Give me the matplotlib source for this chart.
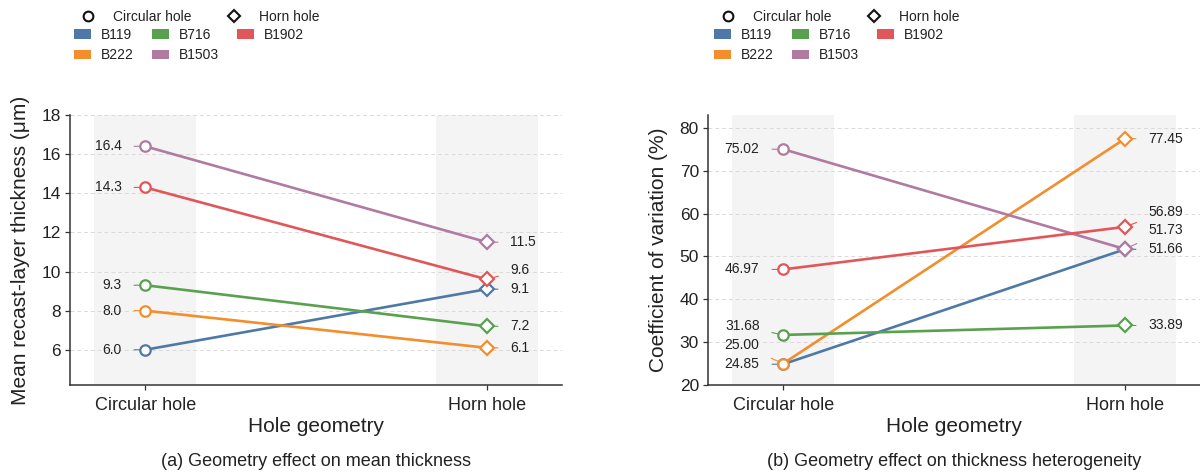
import matplotlib
matplotlib.use("Agg")
import matplotlib.pyplot as plt
from matplotlib.lines import Line2D
from matplotlib.patches import Patch
from matplotlib.transforms import offset_copy

plt.rcParams['font.family'] = ['Liberation Sans', 'DejaVu Sans']

# ---------------- data ----------------
geometries = ["Circular hole", "Horn hole"]
alloys = ["B119", "B222", "B716", "B1503", "B1902"]
colors = {"B119": "#4e79a7", "B222": "#f28e2b", "B716": "#59a14f",
          "B1902": "#e15759", "B1503": "#b07aa1"}

thickness_circular = {"B119": 6.0, "B222": 8.0, "B716": 9.3, "B1503": 16.4, "B1902": 14.3}
thickness_horn = {"B119": 9.1, "B222": 6.1, "B716": 7.2, "B1503": 11.5, "B1902": 9.6}

cv_circular = {"B119": 24.85, "B222": 25.00, "B716": 31.68, "B1503": 75.02, "B1902": 46.97}
cv_horn = {"B119": 51.66, "B222": 77.45, "B716": 33.89, "B1503": 51.73, "B1902": 56.89}

legend_order = ["B119", "B222", "B716", "B1503", "B1902"]

# ---------------- figure ----------------
W, H = 1200, 475
fig = plt.figure(figsize=(12, 4.75), dpi=100)

def px_axes(x0, x1, y_top, y_bot):
    return fig.add_axes([x0 / W, 1 - y_bot / H, (x1 - x0) / W, (y_bot - y_top) / H])

ax1 = px_axes(70, 562, 115, 385)
ax2 = px_axes(708, 1200, 115, 385)

TXT = "#222222"


def spread(vals, gap):
    order = sorted(range(len(vals)), key=lambda i: vals[i])
    pos = [0.0] * len(vals)
    prev = None
    for i in order:
        y = vals[i] if prev is None else max(vals[i], prev + gap)
        pos[i] = y
        prev = y
    return pos


def draw(ax, circ, horn, ylim, yticks, ylabel, fmt, caption):
    ax.set_xlim(-0.22, 1.22)
    ax.set_ylim(*ylim)
    for xc in (0, 1):
        ax.axvspan(xc - 0.15, xc + 0.15, color="#f4f4f4", zorder=0, lw=0)
    ax.set_yticks(yticks)
    ax.yaxis.grid(True, ls=(0, (4, 3)), color="#dadada", lw=0.7, zorder=0.5)
    ax.set_axisbelow(True)

    for a in alloys:
        c = colors[a]
        ax.plot([0, 1], [circ[a], horn[a]], color=c, lw=1.9, zorder=3,
                solid_capstyle="butt")
    for a in alloys:
        c = colors[a]
        ax.plot([0], [circ[a]], marker="o", ms=7.5, mfc="white", mec=c, mew=1.6,
                ls="", zorder=5)
        ax.plot([1], [horn[a]], marker="D", ms=6.8, mfc="white", mec=c, mew=1.6,
                ls="", zorder=5)

    gap = 0.07 * (ylim[1] - ylim[0])
    left_tr = offset_copy(ax.transData, fig=fig, x=-17, y=0, units="points")
    right_tr = offset_copy(ax.transData, fig=fig, x=17, y=0, units="points")
    for xc, data, tr, ha in ((0, circ, left_tr, "right"), (1, horn, right_tr, "left")):
        vals = [data[a] for a in alloys]
        pos = spread(vals, gap)
        for a, v, p in zip(alloys, vals, pos):
            ax.annotate(fmt.format(v), xy=(xc, v), xytext=(xc, p), textcoords=tr,
                        ha=ha, va="center", fontsize=10, color=TXT, zorder=4,
                        arrowprops=dict(arrowstyle="-", color=colors[a], lw=0.8,
                                        shrinkA=7, shrinkB=0))

    ax.set_xticks([0, 1])
    ax.set_xticklabels(geometries)
    for s in ("top", "right"):
        ax.spines[s].set_visible(False)
    for s in ("left", "bottom"):
        ax.spines[s].set_color("#333333")
        ax.spines[s].set_linewidth(1.1)
    ax.tick_params(axis="both", colors="#333333", length=3.5, width=0.9)
    ax.tick_params(axis="y", labelsize=12.5, labelcolor=TXT, pad=3)
    ax.tick_params(axis="x", labelsize=13, labelcolor=TXT, pad=5)

    ax.set_xlabel("Hole geometry", fontsize=15, color=TXT)
    ax.xaxis.set_label_coords(0.5, (385 - 426) / 270)
    ax.xaxis.label.set_va("center")
    ax.set_ylabel(ylabel, fontsize=15, color=TXT)
    ax.yaxis.set_label_coords(-0.10, 0.5)
    ax.yaxis.label.set_va("center")
    ax.text(0.5, (385 - 462) / 270, caption, transform=ax.transAxes,
            ha="center", va="center", fontsize=13, color=TXT)


draw(ax1, thickness_circular, thickness_horn, (4.2, 18), list(range(6, 19, 2)),
     "Mean recast-layer thickness (\u03bcm)", "{:.1f}",
     "(a) Geometry effect on mean thickness")
draw(ax2, cv_circular, cv_horn, (20, 83), list(range(20, 81, 10)),
     "Coefficient of variation (%)", "{:.2f}",
     "(b) Geometry effect on thickness heterogeneity")

# ---------------- legends ----------------
marker_handles = [
    Line2D([], [], marker="o", ls="", mfc="white", mec="#111111", mew=1.5, ms=7),
    Line2D([], [], marker="D", ls="", mfc="white", mec="#111111", mew=1.5, ms=6.3),
]
color_handles = [Patch(facecolor=colors[a], edgecolor="none") for a in legend_order]

for x0 in (74, 714):
    leg1 = fig.legend(marker_handles, geometries, loc="upper left",
                      bbox_to_anchor=(x0 / W, 1 - 10 / H), ncol=2, frameon=False,
                      fontsize=10, borderpad=0, borderaxespad=0, handlelength=2.0,
                      handletextpad=0.8, columnspacing=2.1)
    for t in leg1.get_texts():
        t.set_color(TXT)
    leg2 = fig.legend(color_handles, legend_order, loc="upper left",
                      bbox_to_anchor=(x0 / W, 1 - 28 / H), ncol=3, frameon=False,
                      fontsize=10, borderpad=0, borderaxespad=0, handlelength=1.2,
                      handleheight=0.7, handletextpad=0.75, columnspacing=1.3,
                      labelspacing=0.45)
    for t in leg2.get_texts():
        t.set_color(TXT)

fig.savefig("out.png", dpi=100)
